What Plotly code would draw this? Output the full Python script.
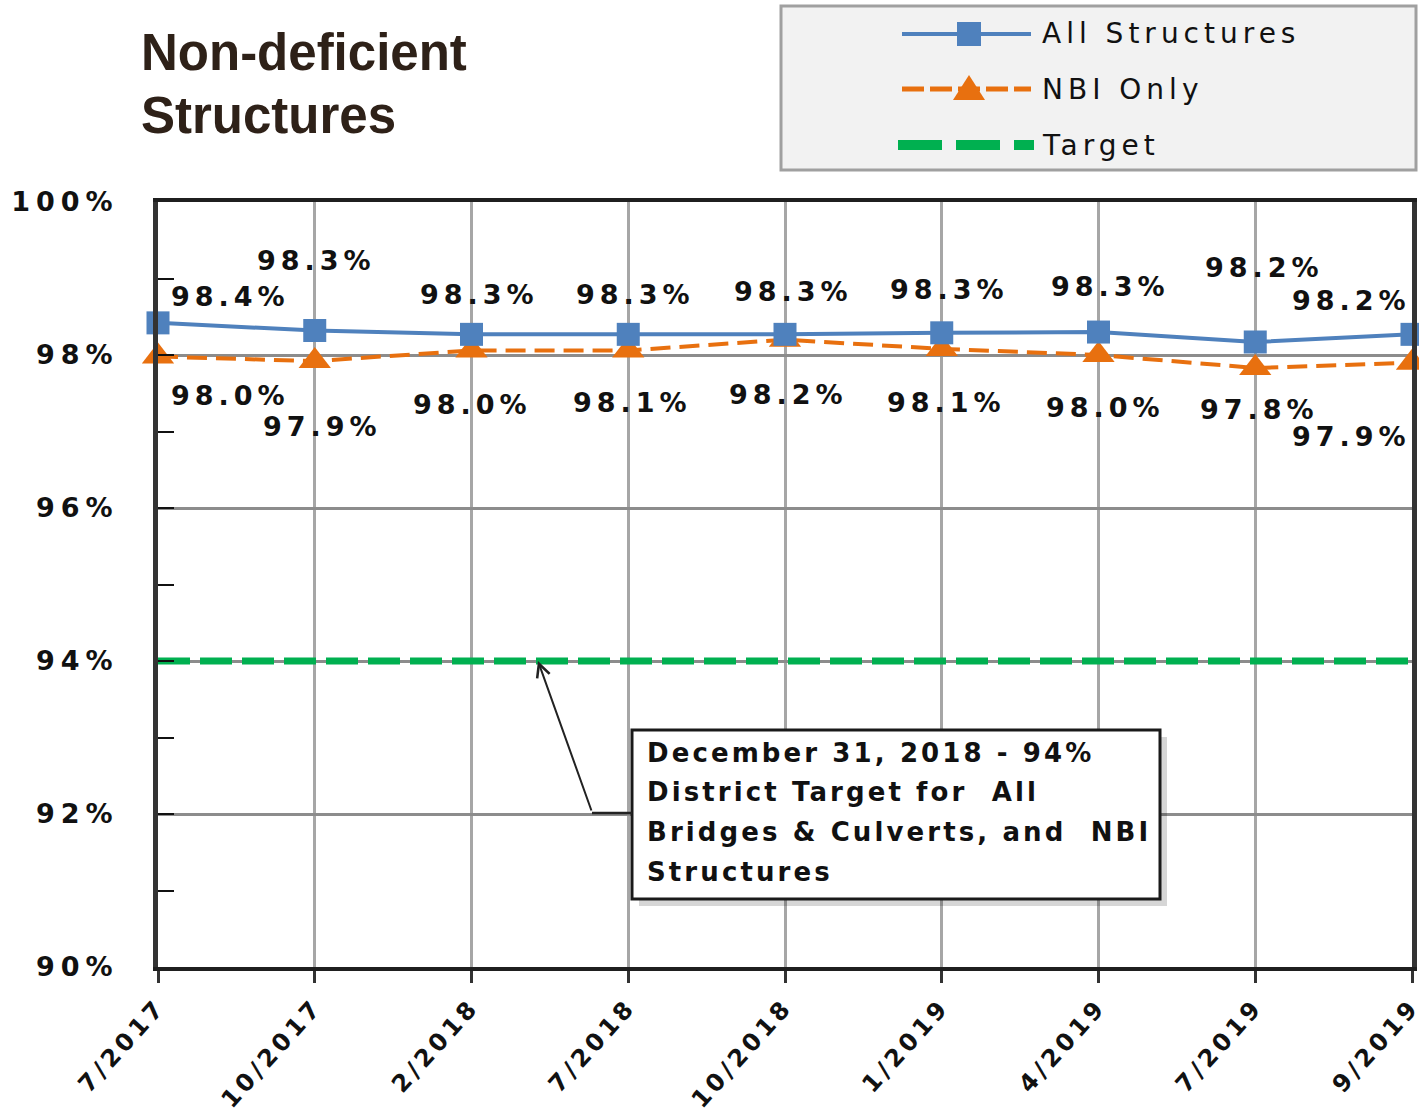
import plotly.graph_objects as go

# ---------------- data ----------------
categories = ["7/2017", "10/2017", "2/2018", "7/2018", "10/2018",
              "1/2019", "4/2019", "7/2019", "9/2019"]
all_structures = [98.42, 98.32, 98.27, 98.27, 98.27, 98.29, 98.30, 98.17, 98.27]
all_labels = ["98.4%", "98.3%", "98.3%", "98.3%", "98.3%", "98.3%", "98.3%", "98.2%", "98.2%"]
nbi_only = [97.98, 97.92, 98.06, 98.06, 98.20, 98.08, 98.00, 97.83, 97.90]
nbi_labels = ["98.0%", "97.9%", "98.0%", "98.1%", "98.2%", "98.1%", "98.0%", "97.8%", "97.9%"]
target = [94, 94, 94, 94, 94, 94, 94, 94, 94]
y_tick_values = [90, 92, 94, 96, 98, 100]
y_tick_labels = ["90%", "92%", "94%", "96%", "98%", "100%"]
series_names = ["All Structures", "NBI Only", "Target"]
callout_lines = ["December 31, 2018 - 94%", "District Target for  All",
                 "Bridges & Culverts, and  NBI", "Structures"]
title_lines = ["Non-deficient", "Structures"]

# ---------------- styles / layout ----------------
W, H = 1419, 1114
PL, PR, PT, PB = 158, 1412, 202, 967   # plot area in window pixels
BLUE, ORANGE, GREEN = "#4f81bd", "#e8700f", "#00b050"
TXT = "#111111"
SANS = "DejaVu Sans, Verdana, sans-serif"


def xp(px):
    return (px - PL) / (PR - PL)


def yp(py):
    return (PB - py) / (PB - PT)


# label offsets in screen pixels (dx, dy; dy positive = down)
all_off = [(72, -26), (2, -70), (8, -40), (7, -40), (8, -43), (8, -43), (12, -46), (9, -74), (-61, -34)]
nbi_off = [(72, 39), (8, 65), (1, 54), (4, 52), (3, 55), (5, 54), (7, 52), (4, 41), (-61, 74)]


def spaced(t, ls):
    return f'<span style="letter-spacing:{ls}px">{t}</span>'


fig = go.Figure()

fig.add_trace(go.Scatter(x=categories, y=target, mode="lines", name=series_names[2],
                         line=dict(color=GREEN, width=7, dash="32px,10px"),
                         cliponaxis=False, showlegend=False))
fig.add_trace(go.Scatter(x=categories, y=nbi_only, mode="lines+markers", name=series_names[1],
                         line=dict(color=ORANGE, width=4, dash="20px,9px"),
                         marker=dict(symbol="triangle-up", size=28, color=ORANGE),
                         cliponaxis=False, showlegend=False))
fig.add_trace(go.Scatter(x=categories, y=all_structures, mode="lines+markers", name=series_names[0],
                         line=dict(color=BLUE, width=4),
                         marker=dict(symbol="square", size=23, color=BLUE),
                         cliponaxis=False, showlegend=False))

LABEL_FONT = dict(family=SANS, size=27, color=TXT, weight="bold")
annotations = []
for i, c in enumerate(categories):
    dx, dy = all_off[i]
    annotations.append(dict(x=c, y=all_structures[i], xref="x", yref="y",
                            text=spaced(all_labels[i], 5), showarrow=False,
                            xshift=dx, yshift=-dy, font=LABEL_FONT))
    dx, dy = nbi_off[i]
    annotations.append(dict(x=c, y=nbi_only[i], xref="x", yref="y",
                            text=spaced(nbi_labels[i], 5), showarrow=False,
                            xshift=dx, yshift=-dy, font=LABEL_FONT))

# ---------- custom legend ----------
LEG_X0, LEG_X1, LEG_MX = 902, 1031, 969
LEG_Y = [34, 89, 145]
shapes = [
    dict(type="rect", xref="paper", yref="paper", x0=xp(781), y0=yp(6), x1=xp(1416), y1=yp(170),
         fillcolor="#f2f2f2", line=dict(color="#a0a0a0", width=3)),
    dict(type="line", xref="paper", yref="paper", x0=xp(LEG_X0), x1=xp(LEG_X1),
         y0=yp(LEG_Y[0]), y1=yp(LEG_Y[0]), line=dict(color=BLUE, width=4)),
    dict(type="rect", xref="paper", yref="paper", x0=xp(LEG_MX - 12), x1=xp(LEG_MX + 12),
         y0=yp(LEG_Y[0] - 12), y1=yp(LEG_Y[0] + 12), fillcolor=BLUE, line=dict(width=0)),
    dict(type="line", xref="paper", yref="paper", x0=xp(LEG_X0), x1=xp(LEG_X1),
         y0=yp(LEG_Y[1]), y1=yp(LEG_Y[1]), line=dict(color=ORANGE, width=5, dash="22px,6px")),
    dict(type="path", xref="paper", yref="paper",
         path=f"M {xp(LEG_MX - 16)},{yp(LEG_Y[1] + 11)} L {xp(LEG_MX + 16)},{yp(LEG_Y[1] + 11)} "
              f"L {xp(LEG_MX)},{yp(LEG_Y[1] - 14)} Z",
         fillcolor=ORANGE, line=dict(width=0)),
    dict(type="line", xref="paper", yref="paper", x0=xp(898), x1=xp(1034),
         y0=yp(LEG_Y[2]), y1=yp(LEG_Y[2]), line=dict(color=GREEN, width=10, dash="44px,14px")),
    # callout shadow + box
    dict(type="rect", xref="paper", yref="paper", x0=xp(639), y0=yp(737), x1=xp(1167), y1=yp(906),
         fillcolor="rgba(0,0,0,0.16)", line=dict(width=0)),
    dict(type="rect", xref="paper", yref="paper", x0=xp(632), y0=yp(730), x1=xp(1160), y1=yp(899),
         fillcolor="white", line=dict(color="#1a1a1a", width=3)),
    # callout leader segment
    dict(type="line", xref="paper", yref="paper", x0=xp(592), y0=yp(813), x1=xp(632), y1=yp(813),
         line=dict(color="#222222", width=2.5)),
]

for name, yy in zip(series_names, LEG_Y):
    annotations.append(dict(x=xp(1040), y=yp(yy), xref="paper", yref="paper",
                            text=spaced(name, 5), showarrow=False,
                            xanchor="left", yanchor="middle",
                            font=dict(family=SANS, size=28, color=TXT)))

# title
for t, yy in zip(title_lines, [52, 116]):
    annotations.append(dict(x=xp(139), y=yp(yy), xref="paper", yref="paper", text=t,
                            showarrow=False, xanchor="left", yanchor="middle",
                            font=dict(family="Liberation Sans, Arial, sans-serif", size=51,
                                      color="#2e2118", weight="bold")))

# callout text
for t, yy in zip(callout_lines, [753, 792, 832, 872]):
    annotations.append(dict(x=xp(645), y=yp(yy), xref="paper", yref="paper",
                            text=spaced(t, 3.1), showarrow=False,
                            xanchor="left", yanchor="middle",
                            font=dict(family=SANS, size=26, color=TXT, weight="bold")))

# callout arrow pointing at the target line
annotations.append(dict(x=2.424, y=94, xref="x", yref="y", text="", showarrow=True,
                        ax=54, ay=151, arrowhead=5, arrowsize=1.3, arrowwidth=2,
                        arrowcolor="#222222"))

fig.update_layout(
    width=W, height=H,
    margin=dict(l=PL, r=W - PR, t=PT, b=H - PB, pad=0),
    paper_bgcolor="white", plot_bgcolor="white",
    showlegend=False,
    annotations=annotations,
    shapes=shapes,
    xaxis=dict(type="category", range=[0, len(categories) - 1], automargin=False,
               showgrid=True, gridcolor="#a6a6a6", gridwidth=3,
               showline=True, mirror=True, linecolor="#1f1f1f", linewidth=4,
               ticks="outside", ticklen=12, tickwidth=3, tickcolor="#333333",
               tickangle=-48,
               tickmode="array", tickvals=categories,
               ticktext=[spaced(c, 4) for c in categories],
               tickfont=dict(family=SANS, size=24, color=TXT, weight="bold"),
               zeroline=False, fixedrange=True),
    yaxis=dict(range=[90, 100], automargin=False,
               showgrid=True, gridcolor="#8c8c8c", gridwidth=3,
               showline=True, mirror=True, linecolor="#333333", linewidth=5,
               ticks="inside", ticklen=16, tickwidth=2, tickcolor="#111111",
               tickmode="array", tickvals=y_tick_values,
               ticktext=[spaced(t, 6) for t in y_tick_labels],
               ticklabelstandoff=29,
               minor=dict(ticks="inside", dtick=1, ticklen=16, tickwidth=2,
                          tickcolor="#111111", showgrid=False),
               tickfont=dict(family=SANS, size=27, color=TXT, weight="bold"),
               zeroline=False, fixedrange=True),
)

fig.write_html("out.html", config={"displayModeBar": False},
               post_script="document.body.style.margin='0';document.body.style.overflow='hidden';")
